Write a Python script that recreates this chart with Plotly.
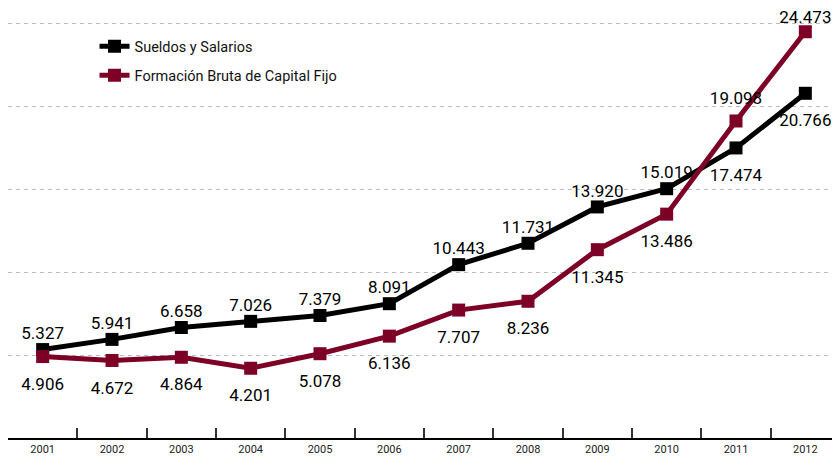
import plotly.graph_objects as go

years = ["2001", "2002", "2003", "2004", "2005", "2006", "2007", "2008", "2009", "2010", "2011", "2012"]
sueldos = [5327, 5941, 6658, 7026, 7379, 8091, 10443, 11731, 13920, 15019, 17474, 20766]
fbcf = [4906, 4672, 4864, 4201, 5078, 6136, 7707, 8236, 11345, 13486, 19098, 24473]
sueldos_labels = ["5.327", "5.941", "6.658", "7.026", "7.379", "8.091", "10.443", "11.731", "13.920", "15.019", "17.474", "20.766"]
fbcf_labels = ["4.906", "4.672", "4.864", "4.201", "5.078", "6.136", "7.707", "8.236", "11.345", "13.486", "19.098", "24.473"]

# label placement styles
sueldos_pos = ["top center"] * 10 + ["bottom center", "bottom center"]
sueldos_gap = [8] * 10 + [31, 31]
fbcf_pos = ["bottom center"] * 10 + ["top center", "top center"]
fbcf_gap = [31] * 10 + [18, 5]

FONT = "Roboto, sans-serif"
BLACK = "#000000"
RED = "#7d0026"
LABEL_FONT = dict(family=FONT, size=17, color="#000000")

fig = go.Figure()
fig.add_trace(go.Scatter(
    x=years, y=sueldos, name="Sueldos y Salarios", legendgroup="a",
    mode="lines+markers",
    line=dict(color=BLACK, width=5),
    marker=dict(symbol="square", size=13, color=BLACK, line=dict(width=0)),
    cliponaxis=False,
))
fig.add_trace(go.Scatter(
    x=years, y=fbcf, name="Formación Bruta de Capital Fijo", legendgroup="b",
    mode="lines+markers",
    line=dict(color=RED, width=5),
    marker=dict(symbol="square", size=13, color=RED, line=dict(width=0)),
    cliponaxis=False,
))
for yv, labs, pos, gap in [(sueldos, sueldos_labels, sueldos_pos, sueldos_gap),
                           (fbcf, fbcf_labels, fbcf_pos, fbcf_gap)]:
    fig.add_trace(go.Scatter(
        x=years, y=yv, mode="markers+text", text=labs, textposition=pos,
        marker=dict(size=gap, color="rgba(0,0,0,0)", line=dict(width=0, color="rgba(0,0,0,0)")),
        textfont=LABEL_FONT, showlegend=False, hoverinfo="skip",
        cliponaxis=False,
    ))

fig.update_layout(
    width=832, height=453,
    margin=dict(l=0, r=0, t=0, b=23),
    paper_bgcolor="white", plot_bgcolor="white",
    font=dict(family=FONT, color="#222222"),
    showlegend=True,
    legend=dict(
        x=0.104, y=0.948, xanchor="left", yanchor="top",
        bgcolor="rgba(0,0,0,0)",
        font=dict(family=FONT, size=14.5, color="#111111"),
        tracegroupgap=7, itemwidth=30, traceorder="grouped",
    ),
    xaxis=dict(
        type="category", range=[-0.5, 11.5],
        showline=True, linecolor="#000000", linewidth=1.5,
        ticks="inside", ticklen=10, tickwidth=1.5, tickcolor="#333333",
        tickson="boundaries", showgrid=False,
        tickfont=dict(family=FONT, size=11, color="#222222"),
    ),
    yaxis=dict(
        range=[0, 25904], tickvals=[5000, 10000, 15000, 20000, 25000],
        showticklabels=False, showgrid=True, gridcolor="#bbbbbb", griddash="4px,4px",
        gridwidth=1, zeroline=False, showline=False,
    ),
)

fig.write_html("out.html")
